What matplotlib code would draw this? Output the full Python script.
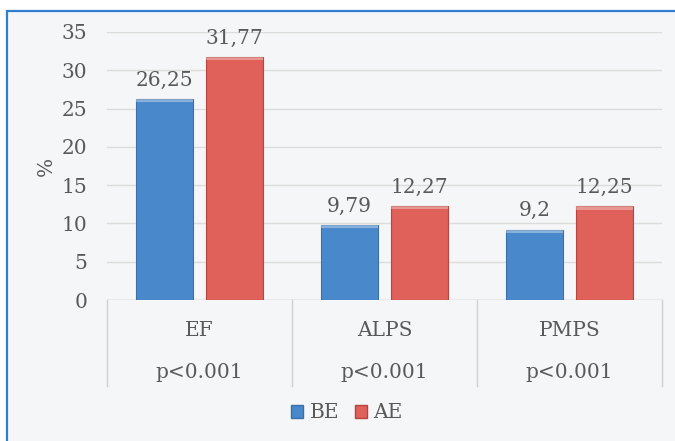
import numpy as np
import matplotlib.pyplot as plt
from matplotlib.patches import Rectangle
from matplotlib.transforms import blended_transform_factory

plt.rcParams['font.family'] = ['DejaVu Serif']

categories = ['EF', 'ALPS', 'PMPS']
p_values = ['p<0.001', 'p<0.001', 'p<0.001']
be_vals = [26.25, 9.79, 9.2]
ae_vals = [31.77, 12.27, 12.25]
be_labels = ['26,25', '9,79', '9,2']
ae_labels = ['31,77', '12,27', '12,25']

blue = '#4a88cc'
red = '#e0605a'
bg = '#f5f6f7'
txt = '#595959'
fs = 14.5

fig = plt.figure(figsize=(6.75, 4.41), dpi=100)
fig.patch.set_facecolor('white')

# panel background with blue frame on left/top
frame = Rectangle((7 / 675, -0.05), 1.1, 1 - 11 / 441 + 0.05, transform=fig.transFigure,
                  facecolor=bg, edgecolor='#2f7fd0', linewidth=1.6, zorder=-5)
fig.patches.append(frame)

ax = fig.add_axes([107 / 675, 1 - 300 / 441, (662 - 107) / 675, (300 - 32) / 441])
ax.set_facecolor('none')

x = np.arange(len(categories))
w = 0.31
off = 0.19

def draw_bars(xs, vals, color, dark):
    bars = ax.bar(xs, vals, w, color=color, edgecolor=dark, linewidth=0.8, zorder=3)
    # light bevel along the top of each bar
    for b in bars:
        ax.add_patch(Rectangle((b.get_x(), b.get_height() - 0.45), b.get_width(), 0.45,
                               facecolor='white', alpha=0.35, linewidth=0, zorder=4))
    return bars

draw_bars(x - off, be_vals, blue, '#3a6fa8')
draw_bars(x + off, ae_vals, red, '#b8443f')

for xi, v, s in zip(x - off, be_vals, be_labels):
    ax.text(xi, v + 1.2, s, ha='center', va='bottom', fontsize=fs, color=txt)
for xi, v, s in zip(x + off, ae_vals, ae_labels):
    ax.text(xi, v + 1.2, s, ha='center', va='bottom', fontsize=fs, color=txt)

ax.set_xlim(-0.5, 2.5)
ax.set_ylim(0, 35)
ax.set_yticks(np.arange(0, 36, 5))
ax.tick_params(axis='y', length=0, labelsize=fs, labelcolor=txt, pad=14)
ax.set_xticks([])
ax.yaxis.grid(True, color='#dcdcdc', linewidth=1, zorder=0)
ax.set_axisbelow(True)
for sp in ax.spines.values():
    sp.set_visible(False)
ax.axhline(0, color='#d0d0d0', linewidth=1, zorder=2)
ax.set_ylabel('%', fontsize=fs, color=txt, labelpad=4)

# two-level category axis below the bars
tr = blended_transform_factory(ax.transData, ax.transAxes)
px = 1 / (300 - 32)
for xd in [-0.5, 0.5, 1.5, 2.5]:
    ax.plot([xd, xd], [0, -86 * px], transform=tr, color='#d0d0d0', linewidth=1, clip_on=False)
for xi, c, p in zip(x, categories, p_values):
    ax.text(xi, -30 * px, c, transform=tr, ha='center', va='center', fontsize=fs, color=txt)
    ax.text(xi, -72 * px, p, transform=tr, ha='center', va='center', fontsize=fs, color=txt)

handles = [Rectangle((0, 0), 1, 1, facecolor=blue, edgecolor='#3a6fa8'),
           Rectangle((0, 0), 1, 1, facecolor=red, edgecolor='#b8443f')]
fig.legend(handles, ['BE', 'AE'], loc='center', bbox_to_anchor=(347 / 675, 1 - 413 / 441),
           ncol=2, frameon=False, fontsize=fs, handlelength=0.6, handleheight=0.6,
           handletextpad=0.3, columnspacing=0.8, labelcolor=txt)

fig.savefig('out.png', dpi=100, facecolor=fig.get_facecolor())
